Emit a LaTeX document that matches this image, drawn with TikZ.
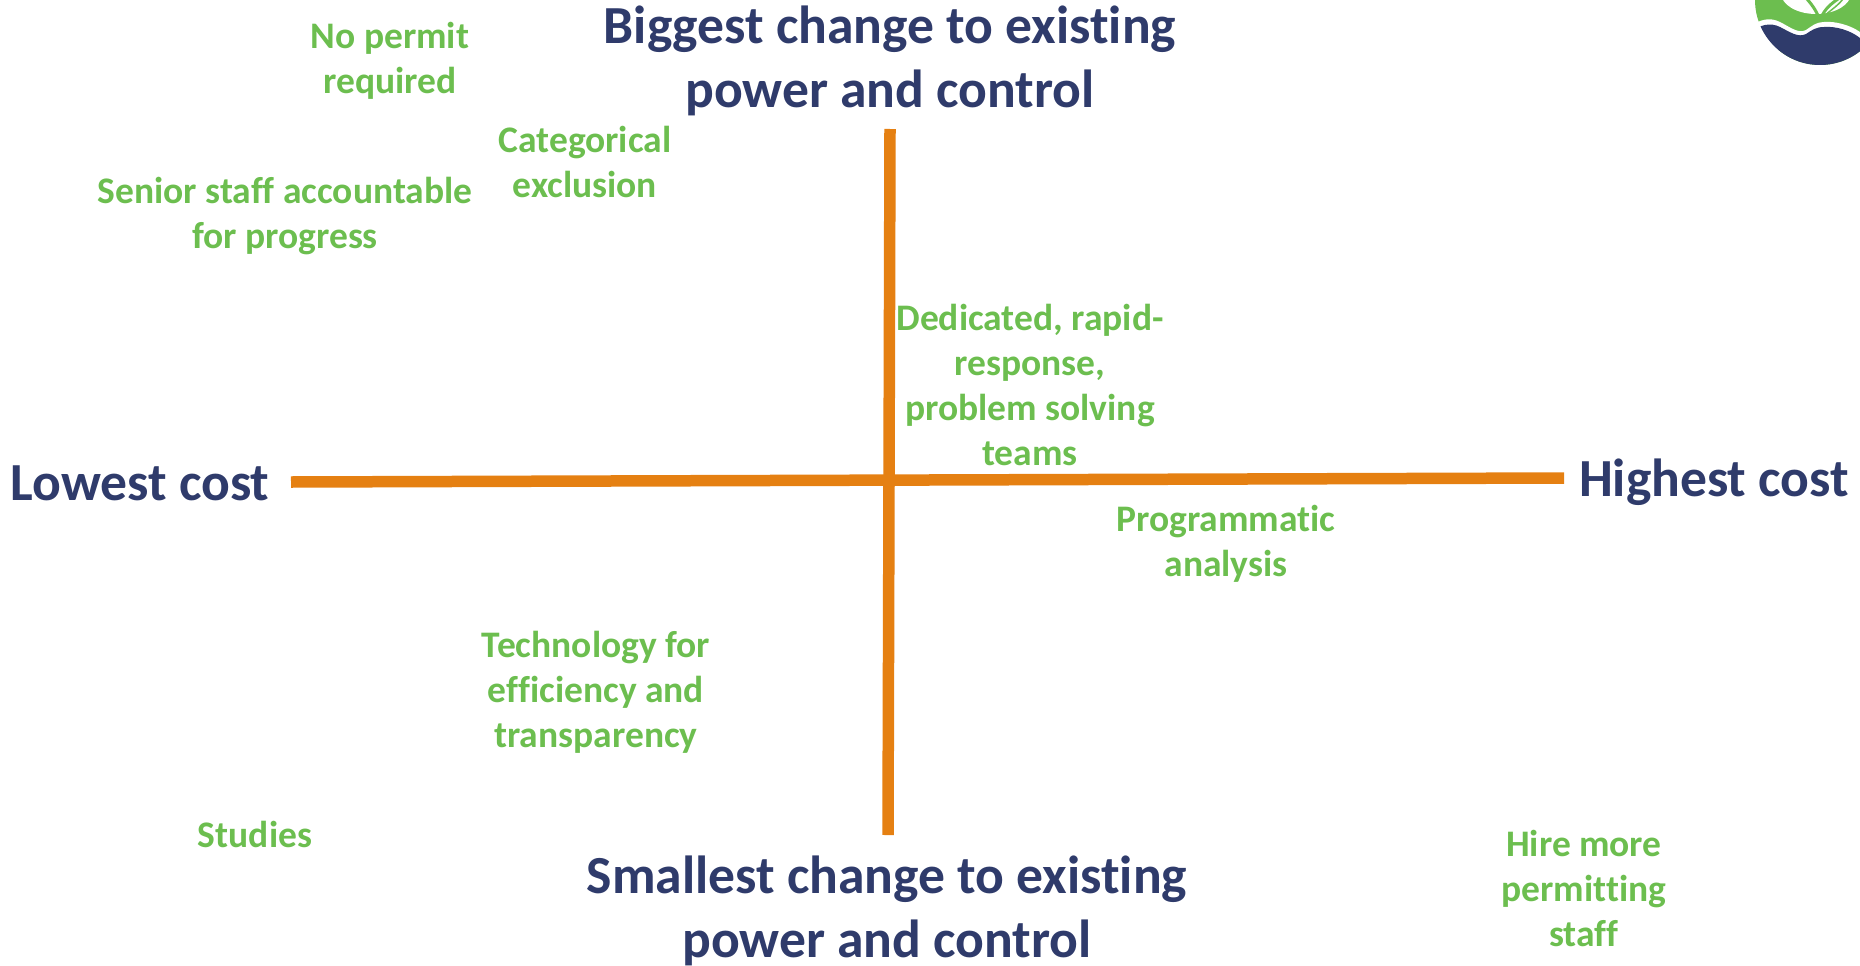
\documentclass[tikz,border=0pt]{standalone}
\usepackage{fontspec}
\setmainfont{Carlito}[RawFeature=-liga]
\definecolor{navy}{HTML}{2F3B6B}
\definecolor{leaf}{HTML}{6CBE4F}
\definecolor{axis}{HTML}{E58012}
\tikzset{
 big/.style={text=navy,font=\bfseries\fontsize{53.6}{64}\selectfont,align=center,inner sep=0pt},
 small/.style={text=leaf,font=\bfseries\fontsize{37.5}{45}\selectfont,align=center,inner sep=0pt},
 axisline/.style={draw=axis,line width=11.5pt}
}
\begin{document}
\begin{tikzpicture}[x=1pt,y=-1pt]
\useasboundingbox (0,0) rectangle (1860,966);
% logo
\begin{scope}
\clip (1700,0) rectangle (1860,966);
\fill[leaf] (1820,0) circle (65);
\fill[white] (1816,-7) ellipse (35 and 21);
\fill[white] (1750,27) .. controls (1760,19) and (1770,17) .. (1780,22) .. controls (1790,27) and (1798,34) .. (1806,30) .. controls (1812,26) and (1816,22) .. (1824,22) .. controls (1835,21) and (1850,25) .. (1860,32) -- (1860,50) -- (1750,50) -- cycle;
\begin{scope}
\clip (1820,0) circle (65);
\fill[navy] (1750,32) .. controls (1760,25) and (1770,22) .. (1780,27) .. controls (1790,32) and (1798,38) .. (1806,34) .. controls (1812,30) and (1816,27) .. (1824,27) .. controls (1835,26) and (1850,30) .. (1860,38) -- (1860,80) -- (1750,80) -- cycle;
\end{scope}
\draw[leaf,line width=3pt] (1820,22) .. controls (1818,13) and (1813,6) .. (1807,-1);
\draw[leaf,line width=3pt] (1820,22) .. controls (1822,12) and (1829,5) .. (1838,-1);
\draw[leaf,line width=1.5pt] (1823,18) .. controls (1827,12) and (1836,8) .. (1843,-1);
\end{scope}
% axes
\coordinate (l) at (291,482);
\coordinate (r) at (1564,478);
\coordinate (t) at (890,129);
\coordinate (b) at (888,835);
\draw[axisline] (l) -- (r);
\draw[axisline] (t) -- (b);
% axis labels
\node[big] (top) at (890,61) {Biggest change to existing\\power and control};
\node[big] (bot) at (887,911) {Smallest change to existing\\power and control};
\node[big] (low) at (140,483) {Lowest cost};
\node[big] (high) at (1714,482) {Highest cost};
% items
\node[small] (permit) at (390,61) {No permit\\required};
\node[small] (cat) at (585,162) {Categorical\\exclusion};
\node[small] (senior) at (285,216) {Senior staff accountable\\for progress};
\node[small] (team) at (1030,385) {Dedicated, rapid-\\response,\\problem solving\\teams};
\node[small] (prog) at (1226,544) {Programmatic\\analysis};
\node[small] (tech) at (596,692) {Technology for\\efficiency and\\transparency};
\node[small] (stud) at (255,834) {Studies};
\node[small] (hire) at (1584,888) {Hire more\\permitting\\staff};
\end{tikzpicture}
\end{document}
